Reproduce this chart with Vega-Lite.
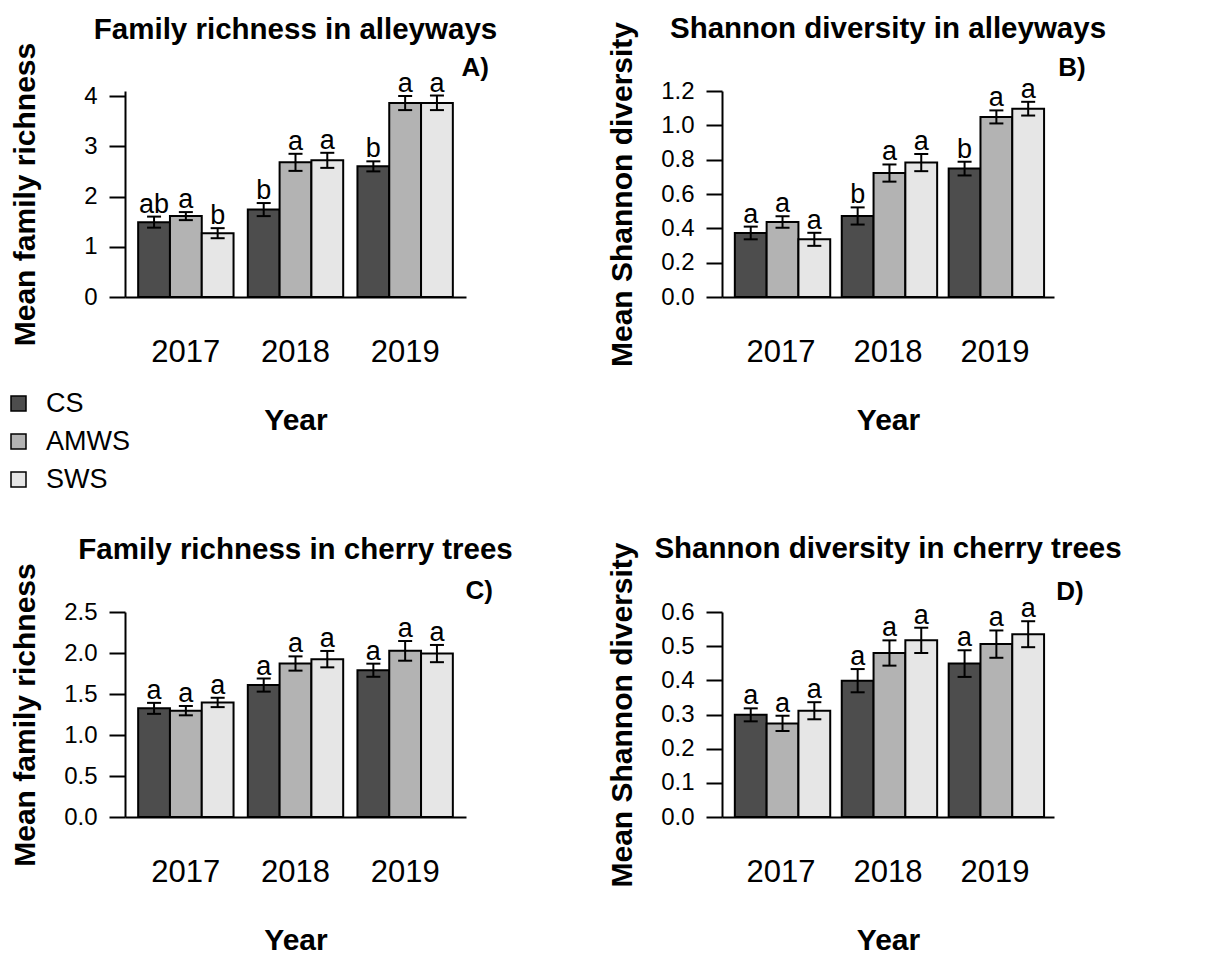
{
  "$schema": "https://vega.github.io/schema/vega-lite/v6.json",
  "padding": {"left": 5, "top": 13, "right": 5, "bottom": 5},
  "background": "white",
  "config": {
    "font": "Liberation Sans",
    "view": {"stroke": null},
    "title": {"fontSize": 29.5, "fontWeight": "bold", "color": "black", "anchor": "middle", "frame": "group"},
    "axisX": {"domain": true, "domainColor": "black", "domainWidth": 2, "ticks": false, "labelFontSize": 31, "labelColor": "black", "labelPadding": 40, "labelAngle": 0, "titleFontSize": 30, "titleFontWeight": "bold", "titleColor": "black", "titlePadding": 38},
    "axisY": {"domainColor": "black", "domainWidth": 2, "tickColor": "black", "tickWidth": 2, "tickSize": 16, "labelFontSize": 24, "labelColor": "black", "labelPadding": 12, "labelFlush": false, "labelOverlap": false, "grid": false, "titleFontSize": 30, "titleFontWeight": "bold", "titleColor": "black", "titleX": -100, "titleY": 103, "titleAngle": 270, "titleAlign": "center", "titleBaseline": "middle"},
    "legend": {"orient": "none", "legendX": -120, "legendY": 299, "padding": 0, "symbolOffset": 0, "title": null, "symbolType": "square", "symbolSize": 225, "symbolStrokeColor": "black", "symbolStrokeWidth": 1.5, "labelFontSize": 27, "labelColor": "black", "rowPadding": 10, "labelOffset": 14}
  },
  "datasets": {
    "A": [
      {"year": "2017", "trt": "CS", "mean": 1.49, "lo": 1.38, "hi": 1.60, "letter": "ab"},
      {"year": "2017", "trt": "AMWS", "mean": 1.61, "lo": 1.53, "hi": 1.69, "letter": "a"},
      {"year": "2017", "trt": "SWS", "mean": 1.27, "lo": 1.17, "hi": 1.37, "letter": "b"},
      {"year": "2018", "trt": "CS", "mean": 1.74, "lo": 1.61, "hi": 1.87, "letter": "b"},
      {"year": "2018", "trt": "AMWS", "mean": 2.68, "lo": 2.51, "hi": 2.85, "letter": "a"},
      {"year": "2018", "trt": "SWS", "mean": 2.72, "lo": 2.57, "hi": 2.87, "letter": "a"},
      {"year": "2019", "trt": "CS", "mean": 2.60, "lo": 2.50, "hi": 2.70, "letter": "b"},
      {"year": "2019", "trt": "AMWS", "mean": 3.86, "lo": 3.72, "hi": 4.00, "letter": "a"},
      {"year": "2019", "trt": "SWS", "mean": 3.86, "lo": 3.72, "hi": 4.01, "letter": "a"}
    ],
    "B": [
      {"year": "2017", "trt": "CS", "mean": 0.373, "lo": 0.336, "hi": 0.410, "letter": "a"},
      {"year": "2017", "trt": "AMWS", "mean": 0.437, "lo": 0.404, "hi": 0.470, "letter": "a"},
      {"year": "2017", "trt": "SWS", "mean": 0.336, "lo": 0.298, "hi": 0.374, "letter": "a"},
      {"year": "2018", "trt": "CS", "mean": 0.472, "lo": 0.422, "hi": 0.522, "letter": "b"},
      {"year": "2018", "trt": "AMWS", "mean": 0.722, "lo": 0.672, "hi": 0.772, "letter": "a"},
      {"year": "2018", "trt": "SWS", "mean": 0.783, "lo": 0.733, "hi": 0.833, "letter": "a"},
      {"year": "2019", "trt": "CS", "mean": 0.748, "lo": 0.708, "hi": 0.788, "letter": "b"},
      {"year": "2019", "trt": "AMWS", "mean": 1.049, "lo": 1.011, "hi": 1.087, "letter": "a"},
      {"year": "2019", "trt": "SWS", "mean": 1.097, "lo": 1.057, "hi": 1.137, "letter": "a"}
    ],
    "C": [
      {"year": "2017", "trt": "CS", "mean": 1.325, "lo": 1.258, "hi": 1.392, "letter": "a"},
      {"year": "2017", "trt": "AMWS", "mean": 1.297, "lo": 1.240, "hi": 1.354, "letter": "a"},
      {"year": "2017", "trt": "SWS", "mean": 1.397, "lo": 1.340, "hi": 1.454, "letter": "a"},
      {"year": "2018", "trt": "CS", "mean": 1.609, "lo": 1.529, "hi": 1.689, "letter": "a"},
      {"year": "2018", "trt": "AMWS", "mean": 1.872, "lo": 1.785, "hi": 1.959, "letter": "a"},
      {"year": "2018", "trt": "SWS", "mean": 1.925, "lo": 1.825, "hi": 2.025, "letter": "a"},
      {"year": "2019", "trt": "CS", "mean": 1.790, "lo": 1.710, "hi": 1.870, "letter": "a"},
      {"year": "2019", "trt": "AMWS", "mean": 2.026, "lo": 1.906, "hi": 2.146, "letter": "a"},
      {"year": "2019", "trt": "SWS", "mean": 1.993, "lo": 1.888, "hi": 2.098, "letter": "a"}
    ],
    "D": [
      {"year": "2017", "trt": "CS", "mean": 0.299, "lo": 0.280, "hi": 0.318, "letter": "a"},
      {"year": "2017", "trt": "AMWS", "mean": 0.274, "lo": 0.252, "hi": 0.296, "letter": "a"},
      {"year": "2017", "trt": "SWS", "mean": 0.311, "lo": 0.286, "hi": 0.336, "letter": "a"},
      {"year": "2018", "trt": "CS", "mean": 0.399, "lo": 0.365, "hi": 0.433, "letter": "a"},
      {"year": "2018", "trt": "AMWS", "mean": 0.480, "lo": 0.443, "hi": 0.517, "letter": "a"},
      {"year": "2018", "trt": "SWS", "mean": 0.517, "lo": 0.480, "hi": 0.554, "letter": "a"},
      {"year": "2019", "trt": "CS", "mean": 0.449, "lo": 0.410, "hi": 0.488, "letter": "a"},
      {"year": "2019", "trt": "AMWS", "mean": 0.506, "lo": 0.466, "hi": 0.546, "letter": "a"},
      {"year": "2019", "trt": "SWS", "mean": 0.535, "lo": 0.497, "hi": 0.573, "letter": "a"}
    ]
  },
  "columns": 2,
  "spacing": {"row": 315, "column": 256},
  "bounds": "flush",
  "concat": [
    {
      "width": 341, "height": 206,
      "data": {"name": "A"},
      "title": {"text": "Family richness in alleyways", "offset": -3},
      "encoding": {
        "x": {"field": "year", "type": "nominal", "title": "Year", "scale": {"paddingInner": 0.13, "paddingOuter": 0.12}},
        "xOffset": {"field": "trt", "type": "nominal", "scale": {"domain": ["CS", "AMWS", "SWS"], "paddingInner": 0, "paddingOuter": 0}}
      },
      "layer": [
        {"mark": {"type": "bar", "stroke": "black", "strokeWidth": 2},
         "encoding": {"y": {"field": "mean", "type": "quantitative", "title": "Mean family richness", "scale": {"domain": [0, 4.1], "nice": false}, "axis": {"values": [0, 1, 2, 3, 4], "format": "d"}},
                      "fill": {"field": "trt", "type": "nominal", "scale": {"domain": ["CS", "AMWS", "SWS"], "range": ["#4d4d4d", "#b3b3b3", "#e6e6e6"]}}}},
        {"mark": {"type": "rule", "strokeWidth": 2, "color": "black"},
         "encoding": {"y": {"field": "lo", "type": "quantitative", "title": "Mean family richness", "axis": {"values": [0, 1, 2, 3, 4], "format": "d"}}, "y2": {"field": "hi"}}},
        {"mark": {"type": "tick", "thickness": 2, "size": 14, "color": "black", "opacity": 1},
         "encoding": {"y": {"field": "lo", "type": "quantitative", "title": "Mean family richness", "axis": {"values": [0, 1, 2, 3, 4], "format": "d"}}}},
        {"mark": {"type": "tick", "thickness": 2, "size": 14, "color": "black", "opacity": 1},
         "encoding": {"y": {"field": "hi", "type": "quantitative", "title": "Mean family richness", "axis": {"values": [0, 1, 2, 3, 4], "format": "d"}}}},
        {"mark": {"type": "text", "baseline": "alphabetic", "dy": -4, "fontSize": 27, "color": "black"},
         "encoding": {"y": {"field": "hi", "type": "quantitative", "title": "Mean family richness", "axis": {"values": [0, 1, 2, 3, 4], "format": "d"}}, "text": {"field": "letter"}}},
        {"data": {"values": [{"label": "A)"}]},
         "mark": {"type": "text", "align": "right", "baseline": "alphabetic", "dx": 52, "fontSize": 26, "fontWeight": "bold", "color": "black"},
         "encoding": {"x": {"datum": "2019"}, "xOffset": {"datum": "SWS"}, "y": {"datum": 4.4, "type": "quantitative", "title": "Mean family richness", "axis": {"values": [0, 1, 2, 3, 4], "format": "d"}}, "text": {"field": "label"}}}
      ]
    },
    {
      "width": 332, "height": 206,
      "data": {"name": "B"},
      "title": {"text": "Shannon diversity in alleyways", "offset": -23},
      "encoding": {
        "x": {"field": "year", "type": "nominal", "title": "Year", "scale": {"paddingInner": 0.135, "paddingOuter": 0.12}},
        "xOffset": {"field": "trt", "type": "nominal", "scale": {"domain": ["CS", "AMWS", "SWS"], "paddingInner": 0, "paddingOuter": 0}}
      },
      "layer": [
        {"mark": {"type": "bar", "stroke": "black", "strokeWidth": 2},
         "encoding": {"y": {"field": "mean", "type": "quantitative", "title": "Mean Shannon diversity", "scale": {"domain": [0, 1.2], "nice": false}, "axis": {"values": [0, 0.2, 0.4, 0.6, 0.8, 1.0, 1.2], "format": ".1f"}},
                      "fill": {"field": "trt", "type": "nominal", "scale": {"domain": ["CS", "AMWS", "SWS"], "range": ["#4d4d4d", "#b3b3b3", "#e6e6e6"]}}}},
        {"mark": {"type": "rule", "strokeWidth": 2, "color": "black"},
         "encoding": {"y": {"field": "lo", "type": "quantitative", "title": "Mean Shannon diversity", "axis": {"values": [0, 0.2, 0.4, 0.6, 0.8, 1.0, 1.2], "format": ".1f"}}, "y2": {"field": "hi"}}},
        {"mark": {"type": "tick", "thickness": 2, "size": 14, "color": "black", "opacity": 1},
         "encoding": {"y": {"field": "lo", "type": "quantitative", "title": "Mean Shannon diversity", "axis": {"values": [0, 0.2, 0.4, 0.6, 0.8, 1.0, 1.2], "format": ".1f"}}}},
        {"mark": {"type": "tick", "thickness": 2, "size": 14, "color": "black", "opacity": 1},
         "encoding": {"y": {"field": "hi", "type": "quantitative", "title": "Mean Shannon diversity", "axis": {"values": [0, 0.2, 0.4, 0.6, 0.8, 1.0, 1.2], "format": ".1f"}}}},
        {"mark": {"type": "text", "baseline": "alphabetic", "dy": -4, "fontSize": 27, "color": "black"},
         "encoding": {"y": {"field": "hi", "type": "quantitative", "title": "Mean Shannon diversity", "axis": {"values": [0, 0.2, 0.4, 0.6, 0.8, 1.0, 1.2], "format": ".1f"}}, "text": {"field": "letter"}}},
        {"data": {"values": [{"label": "B)"}]},
         "mark": {"type": "text", "align": "right", "baseline": "alphabetic", "dx": 57.5, "fontSize": 26, "fontWeight": "bold", "color": "black"},
         "encoding": {"x": {"datum": "2019"}, "xOffset": {"datum": "SWS"}, "y": {"datum": 1.287, "type": "quantitative", "title": "Mean Shannon diversity", "axis": {"values": [0, 0.2, 0.4, 0.6, 0.8, 1.0, 1.2], "format": ".1f"}}, "text": {"field": "label"}}}
      ]
    },
    {
      "width": 341, "height": 205,
      "data": {"name": "C"},
      "title": {"text": "Family richness in cherry trees", "offset": -3},
      "encoding": {
        "x": {"field": "year", "type": "nominal", "title": "Year", "scale": {"paddingInner": 0.13, "paddingOuter": 0.12}},
        "xOffset": {"field": "trt", "type": "nominal", "scale": {"domain": ["CS", "AMWS", "SWS"], "paddingInner": 0, "paddingOuter": 0}}
      },
      "layer": [
        {"mark": {"type": "bar", "stroke": "black", "strokeWidth": 2},
         "encoding": {"y": {"field": "mean", "type": "quantitative", "title": "Mean family richness", "scale": {"domain": [0, 2.5], "nice": false}, "axis": {"values": [0, 0.5, 1.0, 1.5, 2.0, 2.5], "format": ".1f", "titleY": 102.5}},
                      "fill": {"field": "trt", "type": "nominal", "scale": {"domain": ["CS", "AMWS", "SWS"], "range": ["#4d4d4d", "#b3b3b3", "#e6e6e6"]}}}},
        {"mark": {"type": "rule", "strokeWidth": 2, "color": "black"},
         "encoding": {"y": {"field": "lo", "type": "quantitative", "title": "Mean family richness", "axis": {"values": [0, 0.5, 1.0, 1.5, 2.0, 2.5], "format": ".1f", "titleY": 102.5}}, "y2": {"field": "hi"}}},
        {"mark": {"type": "tick", "thickness": 2, "size": 14, "color": "black", "opacity": 1},
         "encoding": {"y": {"field": "lo", "type": "quantitative", "title": "Mean family richness", "axis": {"values": [0, 0.5, 1.0, 1.5, 2.0, 2.5], "format": ".1f", "titleY": 102.5}}}},
        {"mark": {"type": "tick", "thickness": 2, "size": 14, "color": "black", "opacity": 1},
         "encoding": {"y": {"field": "hi", "type": "quantitative", "title": "Mean family richness", "axis": {"values": [0, 0.5, 1.0, 1.5, 2.0, 2.5], "format": ".1f", "titleY": 102.5}}}},
        {"mark": {"type": "text", "baseline": "alphabetic", "dy": -4, "fontSize": 27, "color": "black"},
         "encoding": {"y": {"field": "hi", "type": "quantitative", "title": "Mean family richness", "axis": {"values": [0, 0.5, 1.0, 1.5, 2.0, 2.5], "format": ".1f", "titleY": 102.5}}, "text": {"field": "letter"}}},
        {"data": {"values": [{"label": "C)"}]},
         "mark": {"type": "text", "align": "right", "baseline": "alphabetic", "dx": 56, "fontSize": 26, "fontWeight": "bold", "color": "black"},
         "encoding": {"x": {"datum": "2019"}, "xOffset": {"datum": "SWS"}, "y": {"datum": 2.66, "type": "quantitative", "title": "Mean family richness", "axis": {"values": [0, 0.5, 1.0, 1.5, 2.0, 2.5], "format": ".1f", "titleY": 102.5}}, "text": {"field": "label"}}}
      ]
    },
    {
      "width": 332, "height": 205,
      "data": {"name": "D"},
      "title": {"text": "Shannon diversity in cherry trees", "offset": -23},
      "encoding": {
        "x": {"field": "year", "type": "nominal", "title": "Year", "scale": {"paddingInner": 0.135, "paddingOuter": 0.12}},
        "xOffset": {"field": "trt", "type": "nominal", "scale": {"domain": ["CS", "AMWS", "SWS"], "paddingInner": 0, "paddingOuter": 0}}
      },
      "layer": [
        {"mark": {"type": "bar", "stroke": "black", "strokeWidth": 2},
         "encoding": {"y": {"field": "mean", "type": "quantitative", "title": "Mean Shannon diversity", "scale": {"domain": [0, 0.6], "nice": false}, "axis": {"values": [0, 0.1, 0.2, 0.3, 0.4, 0.5, 0.6], "format": ".1f", "titleY": 102.5}},
                      "fill": {"field": "trt", "type": "nominal", "scale": {"domain": ["CS", "AMWS", "SWS"], "range": ["#4d4d4d", "#b3b3b3", "#e6e6e6"]}}}},
        {"mark": {"type": "rule", "strokeWidth": 2, "color": "black"},
         "encoding": {"y": {"field": "lo", "type": "quantitative", "title": "Mean Shannon diversity", "axis": {"values": [0, 0.1, 0.2, 0.3, 0.4, 0.5, 0.6], "format": ".1f", "titleY": 102.5}}, "y2": {"field": "hi"}}},
        {"mark": {"type": "tick", "thickness": 2, "size": 14, "color": "black", "opacity": 1},
         "encoding": {"y": {"field": "lo", "type": "quantitative", "title": "Mean Shannon diversity", "axis": {"values": [0, 0.1, 0.2, 0.3, 0.4, 0.5, 0.6], "format": ".1f", "titleY": 102.5}}}},
        {"mark": {"type": "tick", "thickness": 2, "size": 14, "color": "black", "opacity": 1},
         "encoding": {"y": {"field": "hi", "type": "quantitative", "title": "Mean Shannon diversity", "axis": {"values": [0, 0.1, 0.2, 0.3, 0.4, 0.5, 0.6], "format": ".1f", "titleY": 102.5}}}},
        {"mark": {"type": "text", "baseline": "alphabetic", "dy": -4, "fontSize": 27, "color": "black"},
         "encoding": {"y": {"field": "hi", "type": "quantitative", "title": "Mean Shannon diversity", "axis": {"values": [0, 0.1, 0.2, 0.3, 0.4, 0.5, 0.6], "format": ".1f", "titleY": 102.5}}, "text": {"field": "letter"}}},
        {"data": {"values": [{"label": "D)"}]},
         "mark": {"type": "text", "align": "right", "baseline": "alphabetic", "dx": 55.5, "fontSize": 26, "fontWeight": "bold", "color": "black"},
         "encoding": {"x": {"datum": "2019"}, "xOffset": {"datum": "SWS"}, "y": {"datum": 0.635, "type": "quantitative", "title": "Mean Shannon diversity", "axis": {"values": [0, 0.1, 0.2, 0.3, 0.4, 0.5, 0.6], "format": ".1f", "titleY": 102.5}}, "text": {"field": "label"}}}
      ]
    }
  ]
}
